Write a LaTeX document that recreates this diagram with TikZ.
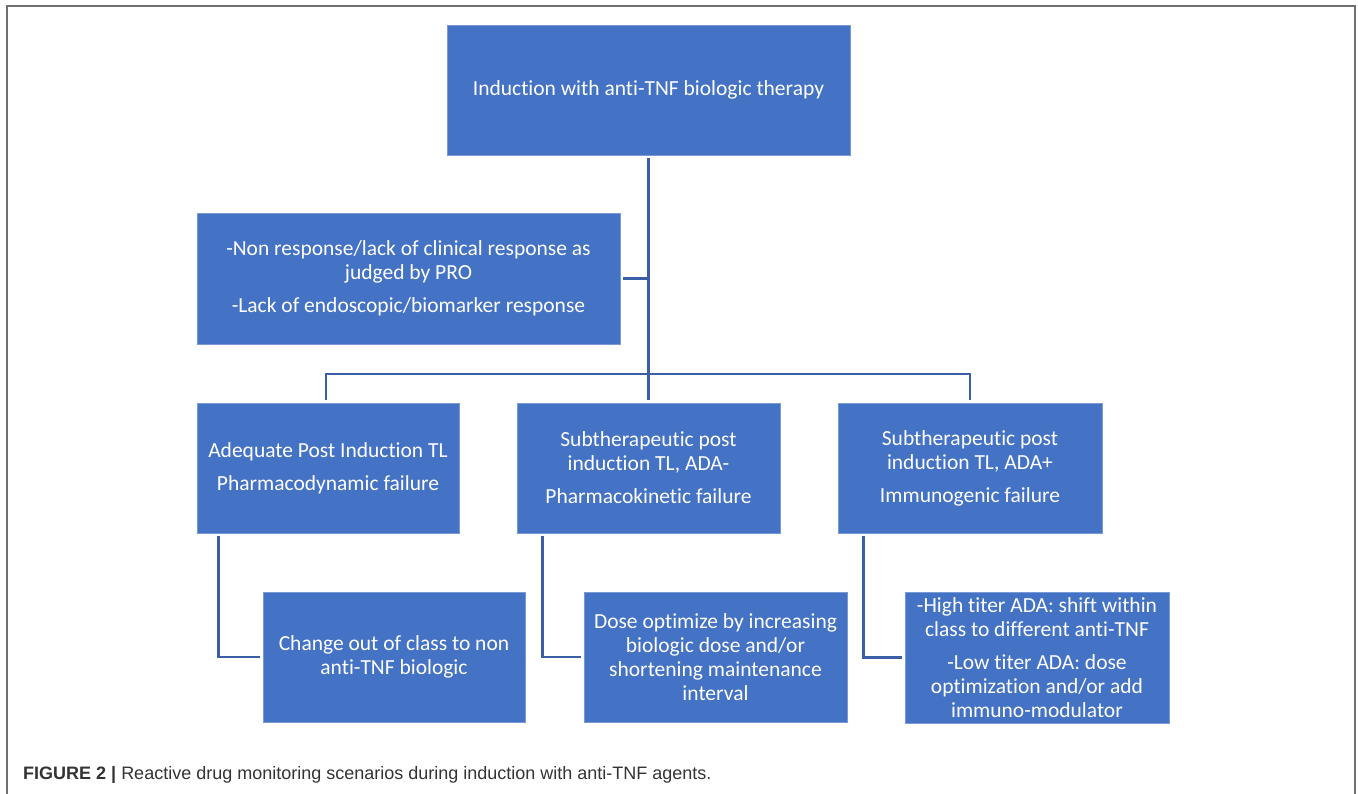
\documentclass[tikz,border=0pt]{standalone}
\usepackage{fontspec}
\setmainfont[Ligatures=NoCommon]{Carlito}
\newfontfamily\capfont{Liberation Sans}
\definecolor{boxblue}{HTML}{4472C4}
\definecolor{boxedge}{HTML}{7A9AD6}
\definecolor{linkblue}{HTML}{3C5EA6}
\definecolor{framegray}{HTML}{707070}
\definecolor{capgray}{HTML}{333333}
\begin{document}
\begin{tikzpicture}[x=1pt,y=-1pt,
  box/.style={draw=boxedge, line width=0.8pt, fill=boxblue, text=white, align=center,
    inner sep=0pt, font=\fontsize{21.5}{24}\selectfont},
  conn/.style={draw=linkblue, line width=2.6pt},
]
\useasboundingbox (0,0) rectangle (1358,794);
% outer frame
\draw[framegray, line width=1.6pt] (7,800) -- (7,6) -- (1355,6) -- (1355,800);

\node[box, minimum width=403pt, minimum height=130pt] (top) at (648.5,90) {Induction with anti-TNF biologic therapy};
\node[box, minimum width=423pt, minimum height=131pt] (L) at (408.5,278.5)
  {-Non response/lack of clinical response as\\ judged by PRO\\[9pt] -Lack of endoscopic/biomarker response};

\node[box, minimum width=262pt, minimum height=130pt] (A) at (328,468)
  {Adequate Post Induction TL\\[9pt] Pharmacodynamic failure};
\node[box, minimum width=263pt, minimum height=130pt] (B) at (648.5,468)
  {Subtherapeutic post\\ induction TL, ADA-\\[9pt] Pharmacokinetic failure};
\node[box, minimum width=264pt, minimum height=130pt] (C) at (970,468)
  {Subtherapeutic post\\ induction TL, ADA+\\[9pt] Immunogenic failure};

\node[box, minimum width=262pt, minimum height=130pt] (D) at (394,657)
  {Change out of class to non\\ anti-TNF biologic};
\node[box, minimum width=263pt, minimum height=130pt] (E) at (715.5,657)
  {Dose optimize by increasing\\ biologic dose and/or\\ shortening maintenance\\ interval};
\node[box, minimum width=264pt, minimum height=131pt] (F) at (1037,657.5)
  {-High titer ADA: shift within\\ class to different anti-TNF\\[9pt] -Low titer ADA: dose\\ optimization and/or add\\ immuno-modulator};

\coordinate (bus) at (648.5,374);
\draw[conn] ([yshift=-3pt]top.south) -- ([yshift=3pt]B.north);
\draw[conn] ([xshift=3pt]L.east) -- (L.east -| top.south);
\draw[conn] ([xshift=-2pt,yshift=3pt]A.north) |- (bus) -| ([yshift=3pt]C.north);

\draw[conn] ([xshift=22pt,yshift=-3pt]A.south west) |- ([xshift=-3pt]D.west);
\draw[conn] ([xshift=26pt,yshift=-3pt]B.south west) |- ([xshift=-3pt]E.west);
\draw[conn] ([xshift=26pt,yshift=-3pt]C.south west) |- ([xshift=-3pt]F.west);

\node[anchor=base west, inner sep=0pt, text=capgray, font=\capfont\fontsize{18}{22}\selectfont] (cap) at (23,779)
  {\textbf{FIGURE 2 |} Reactive drug monitoring scenarios during induction with anti-TNF agents.};
\end{tikzpicture}
\end{document}
